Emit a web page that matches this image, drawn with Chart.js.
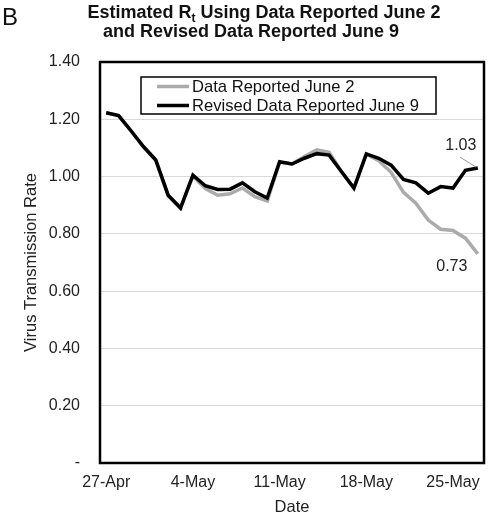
<!DOCTYPE html>
<html>
<head>
<meta charset="utf-8">
<script src="https://cdn.jsdelivr.net/npm/chart.js@4"></script>
<style>
  html, body { margin: 0; padding: 0; background: #fff; }
</style>
</head>
<body>
<canvas id="rtChart" width="489" height="519"></canvas>
<script>
// data (Rt per day, 27-Apr .. 27-May)
var dates = ['27-Apr', '28-Apr', '29-Apr', '30-Apr', '1-May', '2-May', '3-May', '4-May',
  '5-May', '6-May', '7-May', '8-May', '9-May', '10-May', '11-May', '12-May', '13-May',
  '14-May', '15-May', '16-May', '17-May', '18-May', '19-May', '20-May', '21-May',
  '22-May', '23-May', '24-May', '25-May', '26-May', '27-May'];

var reportedJune2 = [1.223, 1.213, 1.160, 1.105, 1.058, 0.935, 0.890, 1.002,
  0.958, 0.935, 0.940, 0.960, 0.930, 0.915, 1.050, 1.044, 1.070,
  1.093, 1.085, 1.017, 0.960, 1.079, 1.055, 1.015, 0.945,
  0.907, 0.848, 0.816, 0.812, 0.785, 0.730];

var revisedJune9 = [1.223, 1.213, 1.160, 1.105, 1.058, 0.935, 0.890, 1.005,
  0.968, 0.955, 0.956, 0.978, 0.947, 0.925, 1.052, 1.044, 1.064,
  1.080, 1.075, 1.017, 0.960, 1.079, 1.064, 1.040, 0.990,
  0.978, 0.942, 0.965, 0.960, 1.022, 1.030];

var xTickDates = ['27-Apr', '4-May', '11-May', '18-May', '25-May'];

var FONT = "'Liberation Sans', Arial, sans-serif";
var GRAY = '#ababab';

// title, panel letter, frame, legend box and end labels
var extras = {
  id: 'extras',
  afterDatasetsDraw: function(chart) {
    var ctx = chart.ctx;
    var a = chart.chartArea;
    ctx.save();

    // frame round the plot area
    ctx.strokeStyle = '#000';
    ctx.lineWidth = 2.5;
    ctx.strokeRect(a.left, a.top, a.right - a.left, a.bottom - a.top);

    // legend box
    var lx = a.left + 41, ly = a.top + 15, lw = 295, lh = 37;
    ctx.fillStyle = '#fff';
    ctx.fillRect(lx, ly, lw, lh);
    ctx.lineWidth = 1.5;
    ctx.strokeRect(lx, ly, lw, lh);
    ctx.font = '16.6px ' + FONT;
    ctx.textBaseline = 'middle';
    ctx.textAlign = 'left';
    chart.data.datasets.forEach(function(ds, i) {
      var y = ly + 9.5 + i * 19;
      ctx.strokeStyle = ds.borderColor;
      ctx.lineWidth = 3.5;
      ctx.beginPath();
      ctx.moveTo(lx + 16, y);
      ctx.lineTo(lx + 48, y);
      ctx.stroke();
      ctx.fillStyle = '#111';
      ctx.fillText(ds.label, lx + 51, y + 1);
    });

    // end-of-series labels
    var last = dates.length - 1;
    var p0 = chart.getDatasetMeta(0).data[last];
    var p1 = chart.getDatasetMeta(1).data[last];
    ctx.fillStyle = '#222';
    ctx.textAlign = 'center';
    ctx.font = '16px ' + FONT;
    ctx.fillText(reportedJune2[last].toFixed(2), p0.x - 26, p0.y + 13);
    ctx.fillText(revisedJune9[last].toFixed(2), p1.x - 17, p1.y - 22);
    ctx.strokeStyle = '#999';
    ctx.lineWidth = 1;
    ctx.beginPath();
    ctx.moveTo(p1.x - 18, p1.y - 11);
    ctx.lineTo(p1.x - 2, p1.y - 1);
    ctx.stroke();

    // panel letter + title
    ctx.fillStyle = '#111';
    ctx.textBaseline = 'alphabetic';
    ctx.textAlign = 'left';
    ctx.font = '24px ' + FONT;
    ctx.fillText('B', 2, 25);

    ctx.font = 'bold 18px ' + FONT;
    var p1a = 'Estimated R', p1b = 't', p1c = ' Using Data Reported June 2';
    var wa = ctx.measureText(p1a).width, wc = ctx.measureText(p1c).width;
    ctx.font = 'bold 12px ' + FONT;
    var wb = ctx.measureText(p1b).width;
    var x = 264 - (wa + wb + wc) / 2;
    ctx.font = 'bold 18px ' + FONT;
    ctx.fillText(p1a, x, 18);
    ctx.font = 'bold 12px ' + FONT;
    ctx.fillText(p1b, x + wa, 22);
    ctx.font = 'bold 18px ' + FONT;
    ctx.fillText(p1c, x + wa + wb, 18);
    ctx.textAlign = 'center';
    ctx.fillText('and Revised Data Reported June 9', 251, 37);
    ctx.restore();
  }
};

var ctxRt = document.getElementById('rtChart').getContext('2d');
var rtChart = new Chart(ctxRt, {
  type: 'line',
  data: {
    labels: dates,
    datasets: [{
      label: 'Data Reported June 2',
      data: reportedJune2,
      borderColor: GRAY,
      borderWidth: 3.5,
      pointRadius: 0,
      tension: 0,
      order: 2
    }, {
      label: 'Revised Data Reported June 9',
      data: revisedJune9,
      borderColor: '#000',
      borderWidth: 3.5,
      pointRadius: 0,
      tension: 0,
      order: 1
    }]
  },
  options: {
    responsive: false,
    animation: false,
    layout: { padding: { top: 62, right: 5, left: 0, bottom: 0 } },
    plugins: {
      legend: { display: false },
      tooltip: { enabled: false }
    },
    scales: {
      x: {
        offset: true,
        grid: { display: false, drawTicks: false },
        border: { display: false },
        afterFit: function(scale) { scale.height = 56; },
        ticks: {
          autoSkip: false,
          maxRotation: 0,
          padding: 10,
          color: '#222',
          font: { family: FONT, size: 16 },
          callback: function(value, index) {
            var lab = dates[index];
            return xTickDates.indexOf(lab) >= 0 ? lab : '';
          }
        },
        title: {
          display: true,
          text: 'Date',
          color: '#222',
          padding: { top: 0, bottom: 2 },
          font: { family: FONT, size: 16.5 }
        }
      },
      y: {
        min: 0,
        max: 1.4,
        grid: { color: '#d9d9d9', lineWidth: 1, drawTicks: false },
        border: { display: false },
        afterFit: function(scale) { scale.width = 100; },
        ticks: {
          stepSize: 0.2,
          padding: 20,
          color: '#222',
          font: { family: FONT, size: 16 },
          callback: function(v) { return v === 0 ? '-' : v.toFixed(2); }
        },
        title: {
          display: true,
          text: 'Virus Transmission Rate',
          color: '#222',
          padding: { top: 22, bottom: 0 },
          font: { family: FONT, size: 16.5 }
        }
      }
    }
  },
  plugins: [extras]
});
</script>
</body>
</html>
